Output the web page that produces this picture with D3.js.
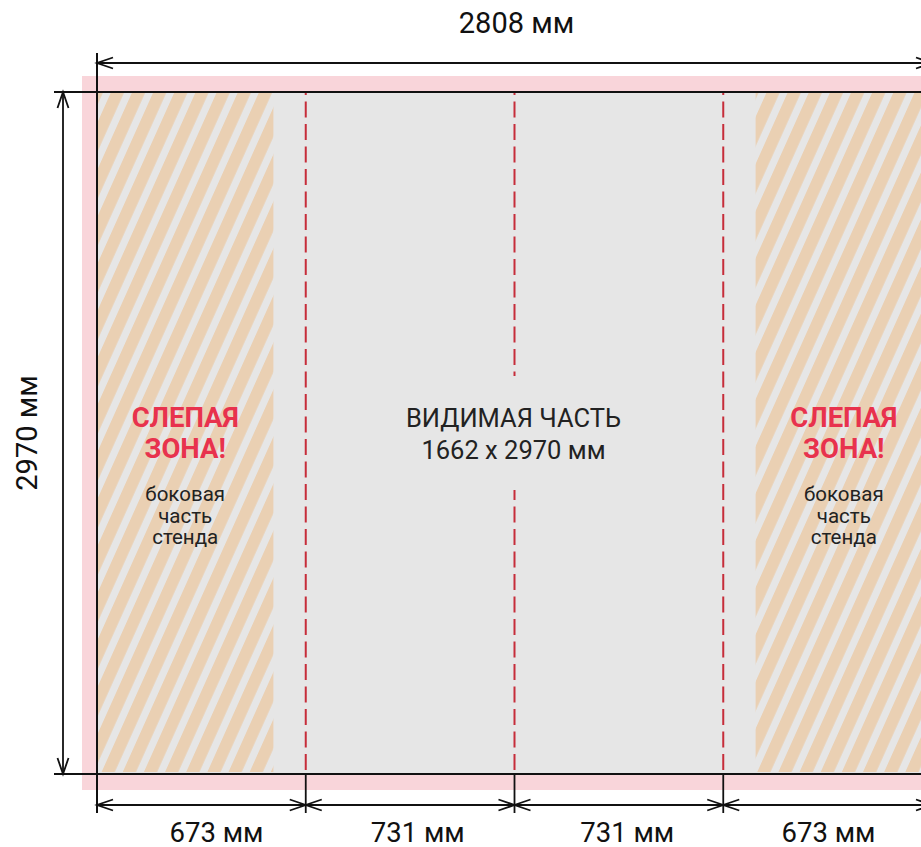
<!DOCTYPE html>
<html>
<head>
<meta charset="utf-8">
<script src="https://cdn.jsdelivr.net/npm/d3@7"></script>
<style>
  html, body { margin: 0; padding: 0; background: #fff; overflow: hidden; }
  svg { display: block; }
  text { font-family: Roboto, "Noto Sans", sans-serif; }
</style>
</head>
<body>
<script>
// ---- data ----
const segmentsMm = [673, 731, 731, 673];
const totalWidthMm = 2808;
const totalHeightMm = 2970;
const visibleSizeMm = [1662, 2970];
const unit = "мм";
const zoneTitle = ["СЛЕПАЯ", "ЗОНА!"];
const zoneText = ["боковая", "часть", "стенда"];
const visibleTitle = ["ВИДИМАЯ ЧАСТЬ", `${visibleSizeMm[0]} x ${visibleSizeMm[1]} ${unit}`];
// blind zones in segment units (left part of first segment, right part of last)
const blindZones = [[0, 0.845], [3.155, 4]];

// ---- layout ----
const W = 921, H = 847;
const ink = "#111", red = "#e8324d", dashRed = "#c62d3a";
const grey = "#e6e6e6", beige = "#ead0b3", pink = "#f9d5da";

const svg = d3.select("body").append("svg").attr("width", W).attr("height", H);

const x = d3.scaleLinear().domain([0, segmentsMm.length]).range([97, 932]);
const y = d3.scaleLinear().domain([0, totalHeightMm]).range([92, 774]);
const cum = d3.cumsum(segmentsMm);
const starts = [0, ...cum.slice(0, -1)];
const labelX = d3.scaleLinear().domain([0, totalWidthMm]).range([120, 925]);

const defs = svg.append("defs");
const pat = defs.append("pattern")
  .attr("id", "stripes")
  .attr("patternUnits", "userSpaceOnUse")
  .attr("x", 4.4).attr("y", 0)
  .attr("width", 21.15).attr("height", 20)
  .attr("patternTransform", "skewX(-24.2)");
pat.append("rect").attr("x", 0).attr("y", 0).attr("width", 13.2).attr("height", 20).attr("fill", beige);

// bleed
svg.append("rect")
  .attr("x", x(0) - 15).attr("y", y(0) - 16)
  .attr("width", x(4) - x(0) + 30).attr("height", y(totalHeightMm) - y(0) + 32)
  .attr("fill", pink);

// panel
svg.append("rect")
  .attr("x", x(0)).attr("y", y(0))
  .attr("width", x(4) - x(0)).attr("height", y(totalHeightMm) - y(0))
  .attr("fill", grey);

// blind zones (striped)
svg.selectAll("rect.zone").data(blindZones).join("rect")
  .attr("class", "zone")
  .attr("x", d => x(d[0])).attr("y", y(0))
  .attr("width", d => x(d[1]) - x(d[0]))
  .attr("height", y(totalHeightMm) - y(0) - 2)
  .attr("fill", "url(#stripes)");

// fold lines
svg.selectAll("line.fold").data(d3.range(1, segmentsMm.length)).join("line")
  .attr("class", "fold")
  .attr("x1", d => x(d)).attr("x2", d => x(d))
  .attr("y1", y(0)).attr("y2", y(totalHeightMm))
  .attr("stroke", dashRed).attr("stroke-width", 2)
  .attr("stroke-dasharray", "16,6.5").attr("stroke-dashoffset", 13);

// middle text background
const midX = x(2), midY = (y(0) + y(totalHeightMm)) / 2;
svg.append("rect")
  .attr("x", midX - 120).attr("y", midY - 57)
  .attr("width", 240).attr("height", 114)
  .attr("fill", grey);

svg.append("g").selectAll("text").data(visibleTitle).join("text")
  .attr("x", midX - 1).attr("y", (d, i) => midY - 6 + i * 32)
  .attr("text-anchor", "middle")
  .attr("font-size", 25.5).attr("fill", "#222")
  .text(d => d);

// blind zone texts
blindZones.forEach(z => {
  const cx = (x(z[0]) + x(z[1])) / 2;
  const g = svg.append("g");
  g.selectAll("text.t").data(zoneTitle).join("text")
    .attr("class", "t")
    .attr("x", cx).attr("y", (d, i) => midY - 6 + i * 31)
    .attr("text-anchor", "middle")
    .attr("font-size", 27.5).attr("font-weight", 700).attr("fill", red)
    .text(d => d);
  g.selectAll("text.s").data(zoneText).join("text")
    .attr("class", "s")
    .attr("x", cx).attr("y", (d, i) => midY + 68 + i * 21.5)
    .attr("text-anchor", "middle")
    .attr("font-size", 20.5).attr("fill", "#222")
    .text(d => d);
});

// border lines
const line = (x1, y1, x2, y2, w = 1.8) => svg.append("line")
  .attr("x1", x1).attr("y1", y1).attr("x2", x2).attr("y2", y2)
  .attr("stroke", ink).attr("stroke-width", w);

line(54, y(0), x(4), y(0), 2);
line(54, y(totalHeightMm), x(4), y(totalHeightMm), 2);
line(x(0), 53, x(0), 813, 2);

// arrowheads
function arrow(tx, ty, dir) {
  const L = 16, S = 5.5;
  let p;
  if (dir === "l") p = [[tx + L, ty - S], [tx, ty], [tx + L, ty + S]];
  if (dir === "r") p = [[tx - L, ty - S], [tx, ty], [tx - L, ty + S]];
  if (dir === "u") p = [[tx - S, ty + L], [tx, ty], [tx + S, ty + L]];
  if (dir === "d") p = [[tx - S, ty - L], [tx, ty], [tx + S, ty - L]];
  svg.append("path").attr("d", d3.line()(p))
    .attr("fill", "none").attr("stroke", ink).attr("stroke-width", 1.8);
}

// top dimension
const topY = 63;
line(x(0), topY, x(4), topY);
arrow(x(0), topY, "l");
arrow(x(4), topY, "r");
svg.append("text")
  .attr("x", (x(0) + x(4)) / 2 + 2).attr("y", 33)
  .attr("text-anchor", "middle").attr("font-size", 29).attr("fill", ink)
  .text(`${totalWidthMm} ${unit}`);

// left dimension
const leftX = 63;
line(leftX, y(0), leftX, y(totalHeightMm));
arrow(leftX, y(0), "u");
arrow(leftX, y(totalHeightMm), "d");
svg.append("text")
  .attr("transform", `translate(37,${midY}) rotate(-90)`)
  .attr("text-anchor", "middle").attr("font-size", 29).attr("fill", ink)
  .text(`${totalHeightMm} ${unit}`);

// bottom dimensions
const botY = 805;
svg.selectAll("line.tick").data(d3.range(0, segmentsMm.length + 1)).join("line")
  .attr("class", "tick")
  .attr("x1", d => x(d)).attr("x2", d => x(d))
  .attr("y1", y(totalHeightMm)).attr("y2", 813)
  .attr("stroke", ink).attr("stroke-width", 1.8);
line(x(0), botY, x(4), botY);
segmentsMm.forEach((d, i) => {
  arrow(x(i), botY, "l");
  arrow(x(i + 1), botY, "r");
});
svg.selectAll("text.seg").data(segmentsMm).join("text")
  .attr("class", "seg")
  .attr("x", (d, i) => labelX(starts[i] + d / 2))
  .attr("y", 842)
  .attr("text-anchor", "middle").attr("font-size", 27.5).attr("fill", ink)
  .text(d => `${d} ${unit}`);
</script>
</body>
</html>
